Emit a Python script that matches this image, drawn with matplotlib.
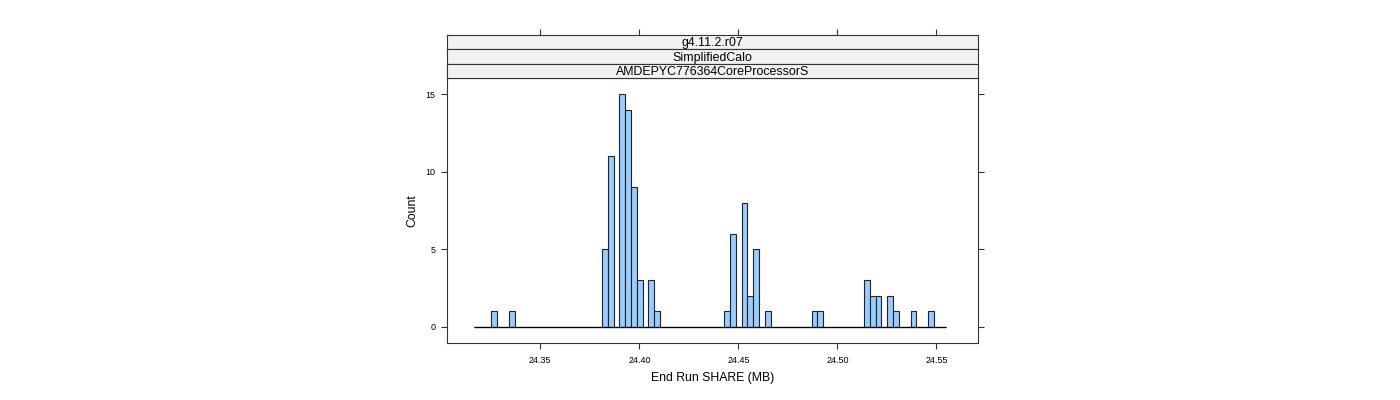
import numpy as np
import matplotlib
matplotlib.use("Agg")
from matplotlib import pyplot as plt

plt.rcParams['font.family'] = ['Liberation Sans', 'DejaVu Sans']

# histogram bins (MB) and counts
bin_lo = 24.3164
bin_hi = 24.5546
counts = [0, 0, 0, 1, 0, 0, 1, 0, 0, 0,
          0, 0, 0, 0, 0, 0, 0, 0, 0, 0,
          0, 0, 5, 11, 0, 15, 14, 9, 3, 0,
          3, 1, 0, 0, 0, 0, 0, 0, 0, 0,
          0, 0, 0, 1, 6, 0, 8, 2, 5, 0,
          1, 0, 0, 0, 0, 0, 0, 0, 1, 1,
          0, 0, 0, 0, 0, 0, 0, 3, 2, 2,
          0, 2, 1, 0, 0, 1, 0, 0, 1, 0,
          0]
strip_labels = ["g4.11.2.r07", "SimplifiedCalo", "AMDEPYC776364CoreProcessorS"]
x_ticks = [24.35, 24.40, 24.45, 24.50, 24.55]
y_ticks = [0, 5, 10, 15]

edges = np.linspace(bin_lo, bin_hi, len(counts) + 1)
xlim = (24.3029, 24.5710)

fig = plt.figure(figsize=(14, 4), dpi=100)
W, H = 1400.0, 400.0
left, right = 447 / W, 978 / W
ax = fig.add_axes([left, 1 - 343 / H, right - left, (343 - 78) / H])

edge_col = '#333333'
ax.bar(edges[:-1], counts, width=np.diff(edges), align='edge',
       color='#99CCFF', edgecolor='#222222', linewidth=0.8)
ax.hlines(0, edges[0], edges[-1], color='black', linewidth=0.9)

ax.set_xlim(*xlim)
ax.set_ylim(-1.05, 16.05)
ax.set_xticks(x_ticks)
ax.set_xticklabels(["%.2f" % t for t in x_ticks])
ax.set_yticks(y_ticks)
ax.tick_params(axis='both', direction='out', length=4.5, width=0.8,
               color=edge_col, labelsize=6.5, pad=5)
ax.tick_params(axis='y', right=True, pad=4)
for s in ax.spines.values():
    s.set_color(edge_col)
    s.set_linewidth(0.8)
ax.set_xlabel('End Run SHARE (MB)', fontsize=8.8, labelpad=5)
ax.set_ylabel('Count', fontsize=8.8, labelpad=5)

# strips above the panel
strip_h = (78 - 35) / 3.0
for i, lab in enumerate(strip_labels):
    top_px = 35 + i * strip_h
    sax = fig.add_axes([left, 1 - (top_px + strip_h) / H, right - left, strip_h / H])
    sax.set_facecolor('#F2F2F2')
    sax.set_xlim(*xlim)
    sax.set_yticks([])
    sax.set_xticks(x_ticks if i == 0 else [])
    sax.tick_params(axis='x', bottom=False, top=(i == 0), labelbottom=False,
                    direction='out', length=4.5, width=0.8, color=edge_col)
    for s in sax.spines.values():
        s.set_color(edge_col)
        s.set_linewidth(0.8)
    sax.text(0.5, 0.42, lab, transform=sax.transAxes, ha='center', va='center',
             fontsize=8.9)

fig.savefig('out.png', dpi=100)
